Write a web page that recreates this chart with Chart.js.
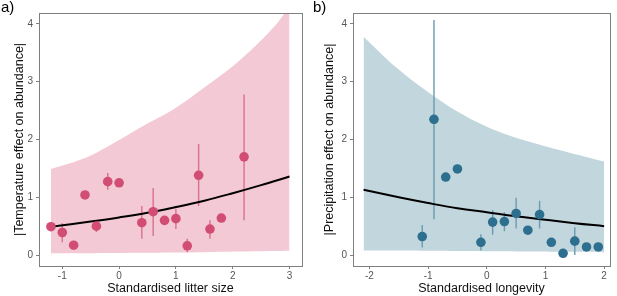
<!DOCTYPE html>
<html>
<head>
<meta charset="utf-8">
<script src="https://cdn.jsdelivr.net/npm/chart.js@4"></script>
<style>
  body { margin: 0; background: #fff; }
  #wrap { position: relative; width: 617px; height: 296px; font-family: "Liberation Sans", Arial, sans-serif; }
  .box { position: absolute; top: 0; height: 296px; }
  .tag { position: absolute; top: -2px; font-size: 15px; color: #000; }
</style>
</head>
<body>
<div id="wrap">
  <div class="box" style="left:0;width:308px"><canvas id="chartA"></canvas></div>
  <div class="box" style="left:308px;width:309px"><canvas id="chartB"></canvas></div>
  <div class="tag" style="left:1px">a)</div>
  <div class="tag" style="left:313px">b)</div>
</div>
<script>
// panel a: litter size vs temperature effect
const litterX = [-1.2, -1.0, -0.8, -0.6, -0.4, -0.2, 0.0, 0.4, 0.6, 0.8, 1.0, 1.2, 1.4, 1.6, 1.8, 2.2];
const tempEffect = [0.49, 0.39, 0.17, 1.04, 0.50, 1.27, 1.25, 0.56, 0.75, 0.60, 0.63, 0.16, 1.38, 0.45, 0.64, 1.70];
const tempLow = [0.45, 0.22, null, null, 0.40, 1.13, null, 0.28, 0.33, null, 0.45, 0.05, 0.85, 0.28, null, 0.60];
const tempHigh = [0.55, 0.55, null, null, 0.60, 1.42, null, 0.85, 1.16, null, 0.80, 0.28, 1.92, 0.60, null, 2.78];
const litterFitX = [-1.2, -0.5, 0.0, 0.5, 1.0, 1.5, 2.0, 2.5, 3.0];
const litterFitY = [0.49, 0.58, 0.65, 0.73, 0.83, 0.94, 1.07, 1.21, 1.36];
const litterBandX = [-1.2, -0.6, -0.2, 0.4, 1.0, 1.5, 2.1, 2.7, 3.0];
const litterBandHi = [1.49, 1.68, 1.88, 2.22, 2.55, 2.90, 3.35, 3.92, 4.30];
const litterBandLo = [0.03, 0.03, 0.035, 0.04, 0.045, 0.05, 0.06, 0.07, 0.075];

// panel b: longevity vs precipitation effect
const longevX = [-1.1, -0.9, -0.7, -0.5, -0.1, 0.1, 0.3, 0.5, 0.7, 0.9, 1.1, 1.3, 1.5, 1.7, 1.9];
const precEffect = [0.32, 2.35, 1.35, 1.49, 0.22, 0.57, 0.58, 0.72, 0.43, 0.70, 0.22, 0.03, 0.24, 0.14, 0.14];
const precLow = [0.13, 0.62, null, null, 0.08, 0.35, 0.41, 0.46, null, 0.46, null, null, 0.0, null, null];
const precHigh = [0.52, 4.07, null, null, 0.36, 0.78, 0.74, 0.99, null, 0.94, null, null, 0.48, null, null];
const longevFitX = [-2.1, -1.5, -1.0, -0.5, 0.0, 0.5, 1.0, 1.5, 2.0];
const longevFitY = [1.13, 1.00, 0.90, 0.81, 0.74, 0.67, 0.61, 0.55, 0.50];
const longevBandX = [-2.1, -1.5, -0.9, -0.35, 0.2, 0.8, 1.35, 2.0];
const longevBandHi = [3.78, 3.21, 2.75, 2.40, 2.14, 1.94, 1.79, 1.62];
const longevBandLo = [0.08, 0.08, 0.075, 0.07, 0.065, 0.06, 0.055, 0.05];

const yTicks = [0, 1, 2, 3, 4];

function pts(xs, ys) {
  return xs.map((x, i) => ({ x: x, y: ys[i] }));
}

// vertical error bars as one broken line
function bars(xs, lo, hi) {
  const out = [];
  xs.forEach((x, i) => {
    if (lo[i] === null) return;
    out.push({ x: x, y: lo[i] }, { x: x, y: hi[i] }, { x: x, y: null });
  });
  return out;
}

// panel frame on all four sides
const framePlugin = {
  id: 'frame',
  afterDraw(chart) {
    const a = chart.chartArea, ctx = chart.ctx;
    ctx.save();
    ctx.strokeStyle = '#7f7f7f';
    ctx.lineWidth = 1;
    ctx.strokeRect(Math.round(a.left) + 0.5, Math.round(a.top) + 0.5,
      Math.round(a.right - a.left), Math.round(a.bottom - a.top));
    ctx.restore();
  }
};

function makeChart(id, o) {
  return new Chart(document.getElementById(id), {
    type: 'scatter',
    data: {
      datasets: [
        {
          data: pts(o.x, o.y),
          backgroundColor: o.pointColor,
          borderWidth: 0,
          pointRadius: 4.8,
          order: 0
        },
        {
          type: 'line',
          data: pts(o.fitX, o.fitY),
          borderColor: '#000',
          borderWidth: 2,
          pointRadius: 0,
          tension: 0.4,
          order: 1
        },
        {
          type: 'line',
          data: bars(o.x, o.lo, o.hi),
          borderColor: o.barColor,
          borderWidth: 1.4,
          pointRadius: 0,
          spanGaps: false,
          order: 2
        },
        {
          type: 'line',
          data: pts(o.bandX, o.bandLo),
          borderWidth: 0,
          pointRadius: 0,
          tension: 0.4,
          order: 4
        },
        {
          type: 'line',
          data: pts(o.bandX, o.bandHi),
          borderWidth: 0,
          pointRadius: 0,
          tension: 0.4,
          fill: '-1',
          backgroundColor: o.bandColor,
          order: 3
        }
      ]
    },
    options: {
      responsive: false,
      animation: false,
      layout: { padding: { top: 13, right: o.padRight, left: 0, bottom: 0 } },
      plugins: { legend: { display: false }, tooltip: { enabled: false } },
      scales: {
        x: {
          type: 'linear',
          min: o.xMin,
          max: o.xMax,
          afterBuildTicks: s => { s.ticks = o.xTicks.map(v => ({ value: v })); },
          afterFit: s => { s.height = 30; },
          grid: { drawOnChartArea: false, color: '#7f7f7f', tickLength: 3 },
          border: { color: '#7f7f7f' },
          ticks: { color: '#555', font: { family: 'Liberation Sans', size: 10 }, padding: 1 },
          title: {
            display: true,
            text: o.xTitle,
            color: '#111',
            font: { family: 'Liberation Sans', size: 12.5 },
            padding: { top: 0, bottom: 0 }
          }
        },
        y: {
          min: -0.19,
          max: 4.19,
          afterBuildTicks: s => { s.ticks = yTicks.map(v => ({ value: v })); },
          afterFit: s => { s.width = o.yWidth; },
          grid: { drawOnChartArea: false, color: '#7f7f7f', tickLength: 3 },
          border: { color: '#7f7f7f' },
          ticks: { color: '#555', font: { family: 'Liberation Sans', size: 10 }, padding: 3 },
          title: {
            display: true,
            text: o.yTitle,
            color: '#111',
            font: { family: 'Liberation Sans', size: 12.5 },
            padding: { top: o.yTitlePad, bottom: 0 }
          }
        }
      }
    },
    plugins: [framePlugin]
  });
}

document.getElementById('chartA').width = 308;
document.getElementById('chartA').height = 296;
document.getElementById('chartB').width = 309;
document.getElementById('chartB').height = 296;

makeChart('chartA', {
  x: litterX, y: tempEffect, lo: tempLow, hi: tempHigh,
  fitX: litterFitX, fitY: litterFitY,
  bandX: litterBandX, bandHi: litterBandHi, bandLo: litterBandLo,
  pointColor: '#d24d73', barColor: '#d9708e', bandColor: '#f2c9d4',
  xMin: -1.41, xMax: 3.22, xTicks: [-1, 0, 1, 2, 3],
  yWidth: 39, padRight: 6, yTitlePad: 12,
  xTitle: 'Standardised litter size',
  yTitle: '|Temperature effect on abundance|'
});

makeChart('chartB', {
  x: longevX, y: precEffect, lo: precLow, hi: precHigh,
  fitX: longevFitX, fitY: longevFitY,
  bandX: longevBandX, bandHi: longevBandHi, bandLo: longevBandLo,
  pointColor: '#2d6f8e', barColor: '#6b9bb0', bandColor: '#c2d6de',
  xMin: -2.28, xMax: 2.1, xTicks: [-2, -1, 0, 1, 2],
  yWidth: 45, padRight: 7, yTitlePad: 14,
  xTitle: 'Standardised longevity',
  yTitle: '|Precipitation effect on abundance|'
});
</script>
</body>
</html>
